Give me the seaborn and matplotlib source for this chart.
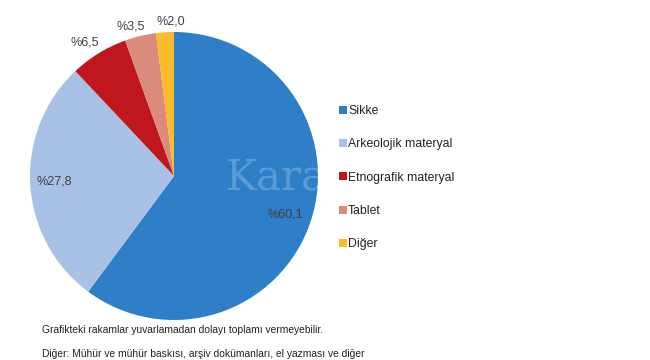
import matplotlib
matplotlib.use("Agg")
import matplotlib.pyplot as plt
import seaborn as sns
import numpy as np
from matplotlib.lines import Line2D

sns.set_theme(style="white")
plt.rcParams['font.family'] = ['Liberation Sans', 'DejaVu Sans']

categories = ["Sikke", "Arkeolojik materyal", "Etnografik materyal", "Tablet", "Diğer"]
values = [60.1, 27.8, 6.5, 3.5, 2.0]
value_labels = ["%60,1", "%27,8", "%6,5", "%3,5", "%2,0"]
colors = ["#2E7EC8", "#A9C1E5", "#C0161D", "#DB8B7B", "#FBBC2A"]
label_dist = [0.82, 0.83, 1.115, 1.08, 1.07]
label_ang_shift = [-0.5, -0.6, 2.1, 2.6, -2.5]

fig = plt.figure(figsize=(6.5, 3.6), dpi=100)
fig.patch.set_facecolor("white")
ax = fig.add_axes([174/650 - 144/650, (360-176)/360 - 144/360, 288/650, 288/360])
wedges, _ = ax.pie(values, colors=colors, startangle=90, counterclock=False,
                   wedgeprops=dict(linewidth=0))
ax.set_aspect("equal")
ax.set_xlim(-1, 1)
ax.set_ylim(-1, 1)
ax.axis("off")

for w, lab, d, s in zip(wedges, value_labels, label_dist, label_ang_shift):
    ang = np.deg2rad((w.theta1 + w.theta2) / 2 + s)
    ax.text(d * np.cos(ang), d * np.sin(ang), lab, ha="center", va="center",
            fontsize=9, color="#404040")

# watermark
wm = fig.text(226/650, 1 - 178/360, "Kara", fontsize=30, color="white", alpha=0.22,
              family="DejaVu Serif", ha="left", va="center")

handles = [Line2D([0], [0], marker="s", color="w", markerfacecolor=c,
                  markeredgewidth=0, markersize=5.5) for c in colors]
fig.legend(handles, categories, loc="upper left", bbox_to_anchor=(334/650, 1 - 100/360),
           frameon=False, fontsize=8.8, handlelength=0.6, handletextpad=0.15,
           labelspacing=1.75, labelcolor="#222222", borderaxespad=0)

fig.text(42/650, 1 - 330/360, "Grafikteki rakamlar yuvarlamadan dolayı toplamı vermeyebilir.",
         fontsize=7.4, color="#222222", ha="left", va="center")
fig.text(42/650, 1 - 349/360, "Diğer: Mühür ve mühür baskısı, arşiv dokümanları, el yazması ve diğer",
         fontsize=7.4, color="#222222", ha="left", va="top")

fig.savefig("out.png", dpi=100, facecolor="white")
